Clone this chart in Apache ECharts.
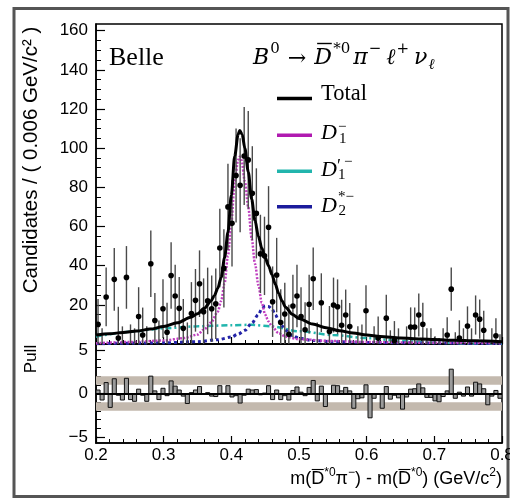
<!DOCTYPE html>
<html><head><meta charset="utf-8">
<script src="https://cdn.jsdelivr.net/npm/echarts@6/dist/echarts.min.js"></script>
<style>html,body{margin:0;padding:0;background:#fff}#c{width:510px;height:499px}</style>
</head><body><div id="c"></div><script>
// ---------------- DATA ----------------
const BIN_START = 0.2, BIN_WIDTH = 0.006;
const counts = [10,-4,24,-14,33,3,-3,34,-2,-5, 14,4.6,-3,41,12,-1,18,6,35,24.5,
  18.2,8,-3,15.6,22.3,30.8,16.5,22,18,20.5, 49,38.6,70,61.6,86,81,96,94,77,66.7,
  46,45,59.6,21.6,35.2,11,15.3,5,19.4,24.5, 14,7.3,20.3,33.3,-2,21.1,-12,6.4,19.9,19,
  9.6,14.8,8.9,-15,-2,-1,17,-27,-2,3, -13,13.2,-3,1.7,-2,-15,-1,8.7,8.7,14.8,
  10.1,-2,-2,-6,-7,-1,4.6,28,-3,3.1, -1,9.2,-1,14.8,12.7,7,-11,-1,4.2,-4];
const errors = [13,12,15,12,16,16,12,16,12,13, 15,14,12,17,14,13,15,15,17,16,
  16,15,14,16,16,17,17,17,17,18, 20,20,22,22,24,24,25,25,24,23,
  20,20,21,18,19,17,16,15,16,16, 15,14,15,16,13,15,13,13,14,14,
  13,13,12,12,11,11,13,11,11,11, 10,12,10,10,10,10,10,10,10,11,
  11,10,10,10,10,9,9,11,9,9, 9,10,9,10,10,10,9,9,9,9];
const pulls = [0.4,-0.75,1.26,-1.6,1.7,-0.2,-0.75,1.75,-0.7,-0.9,
  0.5,-0.2,-0.9,2.0,0.3,-0.7,0.6,-0.25,1.45,0.85,
  0.4,-0.3,-1.15,0.1,0.4,0.8,-0.1,0.1,-0.3,-0.35,
  0.9,0.03,0.9,-0.4,-0.25,-1.1,-0.2,0.5,0.4,0.45,
  -0.15,0.05,0.9,-0.7,0.4,-0.7,-0.25,-0.75,0.35,0.75,
  0.15,-0.25,0.7,1.5,-0.85,0.85,-1.5,-0.05,0.95,0.9,
  0.3,0.7,0.3,-1.7,-0.6,-0.5,1.0,-2.8,-0.55,-0.1,
  -1.7,0.8,-0.65,-0.2,-0.5,-1.8,-0.4,0.5,0.55,1.1,
  0.65,-0.45,-0.45,-0.85,-0.95,-0.35,0.3,2.8,-0.55,0.15,
  -0.3,0.75,-0.3,1.3,1.1,0.55,-1.3,-0.3,0.35,-0.55];
const totalCurve = [[0.2,4.6],[0.22,5.2],[0.24,5.9],[0.26,6.6],[0.28,7.6],[0.3,8.9],[0.32,10.8],
  [0.34,13.6],[0.35,15.4],[0.36,18.2],[0.37,22],[0.375,24.8],[0.38,28.5],[0.385,34],[0.39,44],
  [0.395,57],[0.4,76],[0.405,96],[0.41,107],[0.4125,109],[0.416,107],[0.42,100],[0.425,88],
  [0.43,74],[0.435,63],[0.44,55],[0.445,49],[0.45,44],[0.455,40],[0.46,35.5],[0.465,30.5],
  [0.47,25.8],[0.475,22],[0.48,18.8],[0.49,15.2],[0.5,13],[0.52,10.2],[0.54,8.3],[0.56,6.8],
  [0.58,5.6],[0.6,4.6],[0.62,3.8],[0.65,3.1],[0.68,2.6],[0.7,2.3],[0.73,1.9],[0.76,1.6],[0.8,1.2]];
const d1Curve = [[0.2,0.4],[0.25,1.0],[0.3,1.8],[0.33,3.0],[0.35,4.8],[0.36,7.5],[0.37,11],
  [0.38,16.5],[0.385,22],[0.39,31],[0.395,45],[0.4,62],[0.405,83],[0.41,94],[0.4125,95.6],
  [0.415,94],[0.42,83],[0.425,70],[0.43,54],[0.435,41],[0.44,30],[0.445,21],[0.45,15],
  [0.455,11.5],[0.46,9],[0.47,5.5],[0.48,3.8],[0.5,2.4],[0.55,1.5],[0.6,1.0],[0.7,0.6],[0.8,0.4]];
const d1pCurve = [[0.2,3.7],[0.25,6.2],[0.3,8.0],[0.35,9.0],[0.4,9.6],[0.43,9.8],[0.46,9.0],
  [0.5,6.5],[0.55,4.6],[0.6,3.0],[0.65,1.6],[0.7,0.7],[0.75,0.3],[0.8,0.15]];
const d2Curve = [[0.2,0.2],[0.3,0.6],[0.35,1.2],[0.38,2.2],[0.4,3.6],[0.41,5],[0.42,7],[0.43,10.5],
  [0.44,15],[0.445,18],[0.45,19.4],[0.455,19.2],[0.46,17.8],[0.465,15],[0.47,12],[0.475,9.2],
  [0.48,7],[0.49,4.3],[0.5,3],[0.52,1.8],[0.55,1.2],[0.6,0.8],[0.7,0.5],[0.8,0.3]];
const yTicksTop = [0,20,40,60,80,100,120,140,160];
const yLabelsTop = [20,40,60,80,100,120,140,160];
const yMinorTop = [5,10,15,25,30,35,45,50,55,65,70,75,85,90,95,105,110,115,125,130,135,145,150,155];
const yTicksPull = [-5,0,5];
const yMinorPull = [-4,-3,-2,-1,1,2,3,4];

// ---------------- BUILD ----------------
const centers = counts.map((_, i) => +(BIN_START + BIN_WIDTH * (i + 0.5)).toFixed(4));
const pointData = counts.map((c, i) => [centers[i], c, errors[i]]);
const pullData = pulls.map((p, i) => [centers[i], p]);

const SANS = '"Liberation Sans", Arial, sans-serif';
const SERIF = '"Liberation Serif", "Times New Roman", serif';
const DSERIF = '"DejaVu Serif", serif';
const chart = echarts.init(document.getElementById('c'), null, {renderer: 'canvas', width: 510, height: 499});

const mctx = document.createElement('canvas').getContext('2d');
function txt(x, y, t, font, extra) {
  return Object.assign({type: 'text', x: x, y: y, silent: true,
    style: {text: t, font: font, fill: '#000', textAlign: 'left', textVerticalAlign: 'middle', verticalAlign: 'middle'}}, extra || {});
}
function bar(x1, x2, y, w) {
  return {type: 'line', silent: true, shape: {x1: x1, y1: y, x2: x2, y2: y}, style: {stroke: '#000', lineWidth: w || 1.3}};
}
function layoutRuns(list, x0, yMid, align) {
  const ws = list.map(r => { mctx.font = r.f; return mctx.measureText(r.t).width; });
  let total = 0;
  list.forEach((r, i) => { total += (r.pre || 0); if (!r.noAdv) total += ws[i]; });
  let x = align === 'right' ? x0 - total : x0;
  const els = [];
  list.forEach((r, i) => {
    x += (r.pre || 0);
    els.push(txt(x, yMid + (r.dy || 0), r.t, r.f));
    if (r.bar) els.push(bar(x + r.bar[0], x + ws[i] + r.bar[1], yMid + r.bar[2], r.bar[3]));
    if (!r.noAdv) x += ws[i];
  });
  return els;
}
const R15 = '15px ' + SERIF;
const I22 = 'italic 22px ' + SERIF;
const FI = 'italic 22px ' + DSERIF, FS = '15px ' + DSERIF, FSI = 'italic 15px ' + DSERIF;
let graphics = [];
graphics.push({type: 'rect', silent: true, shape: {x: 14, y: 8.5, width: 494, height: 488},
  style: {fill: 'none', stroke: '#555', lineWidth: 3}});
graphics.push(txt(109, 58.5, 'Belle', '26px ' + SERIF));
// formula B0 -> D*0 pi- l+ nu_l
graphics = graphics.concat(layoutRuns([
  {t: 'B', f: FI}, {t: '0', f: FS, dy: -8.5, pre: 1},
  {t: '→', f: '22px ' + DSERIF, pre: 8, dy: 1},
  {t: 'D', f: FI, pre: 8, bar: [3, 0, -14.5, 1.4]}, {t: '*0', f: FS, dy: -8.5, pre: 1.5},
  {t: 'π', f: FI, pre: 3}, {t: '−', f: FS, dy: -8.5, pre: 1},
  {t: 'ℓ', f: FI, pre: 5}, {t: '+', f: FS, dy: -8.5, pre: 1},
  {t: 'ν', f: FI, pre: 5}, {t: 'ℓ', f: FSI, dy: 7.5, pre: 1}
], 253, 58, 'left'));
// legend
const legendItems = [
  {y: 98.5, color: '#000000'}, {y: 135.3, color: '#b01ab0'},
  {y: 171.3, color: '#22b5ad'}, {y: 206.7, color: '#1c1c9c'}];
legendItems.forEach(it => graphics.push({type: 'line', silent: true,
  shape: {x1: 277, y1: it.y, x2: 312, y2: it.y}, style: {stroke: it.color, lineWidth: 3.5}}));
graphics.push(txt(321, 94.5, 'Total', '22.5px ' + SERIF));
graphics = graphics.concat(layoutRuns([
  {t: 'D', f: I22}, {t: '−', f: R15, dy: -6, pre: 1, noAdv: true}, {t: '1', f: R15, dy: 6, pre: 1}], 321, 133.5, 'left'));
graphics = graphics.concat(layoutRuns([
  {t: 'D', f: I22}, {t: '′', f: '18px ' + SERIF, dy: -3, pre: 0, noAdv: true},
  {t: '1', f: R15, dy: 5, pre: 1, noAdv: true}, {t: '−', f: R15, dy: -8, pre: 6}], 321, 170, 'left'));
graphics = graphics.concat(layoutRuns([
  {t: 'D', f: I22}, {t: '*−', f: R15, dy: -9, pre: 1, noAdv: true}, {t: '2', f: R15, dy: 5.5, pre: 0.5}], 321, 206, 'left'));
// axis titles
graphics.push({type: 'text', x: 31.5, y: 160, rotation: Math.PI / 2, silent: true,
  style: {text: 'Candidates / ( 0.006 GeV/c² )', font: '20.5px ' + SANS, fill: '#000',
    textAlign: 'center', textVerticalAlign: 'middle', align: 'center', verticalAlign: 'middle'}});
graphics.push({type: 'text', x: 31, y: 359, rotation: Math.PI / 2, silent: true,
  style: {text: 'Pull', font: '17px ' + SANS, fill: '#000',
    textAlign: 'center', textVerticalAlign: 'middle', align: 'center', verticalAlign: 'middle'}});
const S18 = '18px ' + SANS, S12 = '12px ' + SANS;
graphics = graphics.concat(layoutRuns([
  {t: 'm(', f: S18}, {t: 'D', f: S18, bar: [0.5, -0.5, -9.5, 1.1]}, {t: '*0', f: S12, dy: -6},
  {t: 'π', f: S18}, {t: '−', f: S12, dy: -6}, {t: ') - m(', f: S18},
  {t: 'D', f: S18, bar: [0.5, -0.5, -9.5, 1.1]}, {t: '*0', f: S12, dy: -6},
  {t: ') (GeV/c', f: S18}, {t: '2', f: S12, dy: -6}, {t: ')', f: S18}
], 502, 479, 'right'));

const axisLineStyle = {lineStyle: {color: '#000', width: 1.5}};
const labelStyle = {color: '#000', fontSize: 17, fontFamily: SANS};

const option = {
  animation: false,
  backgroundColor: '#fff',
  grid: [
    {left: 96, top: 24, width: 406, height: 320, show: true, borderColor: '#000', borderWidth: 1.5,
     backgroundColor: 'transparent', containLabel: false, outerBoundsMode: 'none'},
    {left: 96, top: 344, width: 406, height: 99, show: true, borderColor: '#000', borderWidth: 1.5,
     backgroundColor: 'transparent', containLabel: false, outerBoundsMode: 'none'}
  ],
  xAxis: [
    {type: 'value', gridIndex: 0, min: 0.2, max: 0.8, interval: 0.1, axisLine: {onZero: false, ...axisLineStyle},
     axisTick: {inside: true, length: 7, lineStyle: {color: '#000', width: 1.2}},
     minorTick: {show: true, splitNumber: 5, length: 4, lineStyle: {color: '#000', width: 1}},
     axisLabel: {show: false}, splitLine: {show: false}},
    {type: 'value', gridIndex: 1, min: 0.2, max: 0.8, interval: 0.1, axisLine: {onZero: false, ...axisLineStyle},
     axisTick: {inside: true, length: 7, lineStyle: {color: '#000', width: 1.2}},
     minorTick: {show: true, splitNumber: 5, length: 4, lineStyle: {color: '#000', width: 1}},
     axisLabel: {...labelStyle, margin: 4, showMinLabel: true, showMaxLabel: true, hideOverlap: false, formatter: v => v.toFixed(1)},
     splitLine: {show: false}}
  ],
  yAxis: [
    {type: 'value', gridIndex: 0, min: 0, max: 163.4, position: 'left', axisLine: {onZero: false, ...axisLineStyle},
     axisTick: {inside: true, length: 9, customValues: yTicksTop, lineStyle: {color: '#000', width: 1.2}},
     axisLabel: {...labelStyle, margin: 8, customValues: yLabelsTop}, splitLine: {show: false}},
    {type: 'value', gridIndex: 0, min: 0, max: 163.4, position: 'left', axisLine: {show: false, onZero: false},
     axisTick: {inside: true, length: 5, customValues: yMinorTop, lineStyle: {color: '#000', width: 1}},
     axisLabel: {show: false}, splitLine: {show: false}},
    {type: 'value', gridIndex: 1, min: -5.7, max: 5.7, position: 'left', axisLine: {onZero: false, ...axisLineStyle},
     axisTick: {inside: true, length: 9, customValues: yTicksPull, lineStyle: {color: '#000', width: 1.2}},
     axisLabel: {...labelStyle, margin: 8, customValues: yTicksPull, formatter: v => v < 0 ? '\u2212' + Math.abs(v) : String(v)},
     splitLine: {show: false}},
    {type: 'value', gridIndex: 1, min: -5.7, max: 5.7, position: 'left', axisLine: {show: false, onZero: false},
     axisTick: {inside: true, length: 5, customValues: yMinorPull, lineStyle: {color: '#000', width: 1}},
     axisLabel: {show: false}, splitLine: {show: false}}
  ],
  series: [
    {type: 'line', name: "D1'", xAxisIndex: 0, yAxisIndex: 0, data: d1pCurve, showSymbol: false, smooth: 0.3, smoothMonotone: 'x',
     z: 2, lineStyle: {color: '#22b5ad', width: 2.5, type: [6, 3, 2, 3]}},
    {type: 'line', name: 'D2*', xAxisIndex: 0, yAxisIndex: 0, data: d2Curve, showSymbol: false, smooth: 0.3, smoothMonotone: 'x',
     z: 2, lineStyle: {color: '#2424a8', width: 3, type: [3, 3]}},
    {type: 'line', name: 'D1', xAxisIndex: 0, yAxisIndex: 0, data: d1Curve, showSymbol: false, smooth: 0.3, smoothMonotone: 'x',
     z: 2, lineStyle: {color: '#c040c0', width: 2.5, type: [2, 1.5]}},
    {type: 'custom', name: 'Data', xAxisIndex: 0, yAxisIndex: 0, data: pointData, clip: true, z: 3,
     renderItem: function (params, api) {
       const x = api.value(0), y = api.value(1), e = api.value(2);
       const p = api.coord([x, y]), lo = api.coord([x, y - e]), hi = api.coord([x, y + e]);
       return {type: 'group', children: [
         {type: 'line', shape: {x1: p[0], y1: lo[1], x2: p[0], y2: hi[1]}, style: {stroke: '#4a4a4a', lineWidth: 1.4}},
         {type: 'circle', shape: {cx: p[0], cy: p[1], r: 2.8}, style: {fill: '#000'}}
       ]};
     }},
    {type: 'line', name: 'Total', xAxisIndex: 0, yAxisIndex: 0, data: totalCurve, showSymbol: false, smooth: 0.3, smoothMonotone: 'x',
     z: 4, lineStyle: {color: '#000', width: 3}},
    {type: 'line', name: 'bands', xAxisIndex: 1, yAxisIndex: 2, data: [], z: 1,
     markArea: {silent: true, itemStyle: {color: '#c3b9ae'},
       data: [[{yAxis: 1}, {yAxis: 2}], [{yAxis: -2}, {yAxis: -1}]]}},
    {type: 'custom', name: 'Pull', xAxisIndex: 1, yAxisIndex: 2, data: pullData, clip: true, z: 3,
     renderItem: function (params, api) {
       const x = api.value(0), v = api.value(1);
       const a = api.coord([x - BIN_WIDTH / 2, v]), b = api.coord([x + BIN_WIDTH / 2, 0]);
       return {type: 'rect', shape: {x: a[0], y: Math.min(a[1], b[1]), width: b[0] - a[0], height: Math.abs(b[1] - a[1])},
         style: {fill: '#9b9b9b', stroke: '#111', lineWidth: 1}};
     },
     markLine: {silent: true, symbol: 'none', label: {show: false}, lineStyle: {color: '#000', width: 2, type: 'solid'},
       data: [{yAxis: 0}]}}
  ],
  graphic: graphics
};
chart.setOption(option);
</script></body></html>
